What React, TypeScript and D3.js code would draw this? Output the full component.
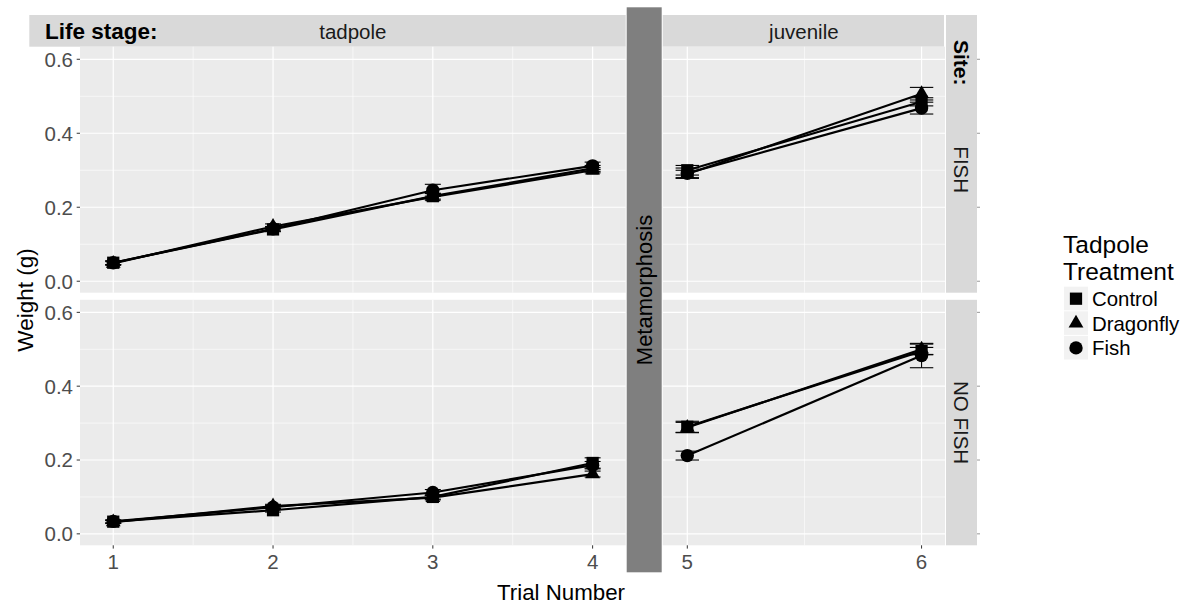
import React from "react";
import * as d3 from "d3";

// ---- data -------------------------------------------------------------
const tadpoleTrials = [1, 2, 3, 4];
const juvenileTrials = [5, 6];
const treatments = ["Control", "Dragonfly", "Fish"];
const sites = ["FISH", "NO FISH"];
const yTicks = [0, 0.2, 0.4, 0.6];
const yMinorTicks = [0.1, 0.3, 0.5];

// mean weight (g) for trials 1..6, per site and tadpole treatment
const fishControl = [0.05, 0.14, 0.23, 0.305, 0.3, 0.485];
const fishDragonfly = [0.048, 0.148, 0.228, 0.3, 0.29, 0.507];
const fishFish = [0.05, 0.142, 0.246, 0.312, 0.292, 0.468];
const noFishControl = [0.033, 0.064, 0.1, 0.192, 0.29, 0.495];
const noFishDragonfly = [0.032, 0.075, 0.098, 0.162, 0.288, 0.5];
const noFishFish = [0.034, 0.072, 0.112, 0.186, 0.212, 0.483];

// standard errors
const fishControlSe = [0.005, 0.006, 0.008, 0.008, 0.013, 0.011];
const fishDragonflySe = [0.005, 0.007, 0.009, 0.007, 0.01, 0.017];
const fishFishSe = [0.005, 0.006, 0.016, 0.01, 0.014, 0.016];
const noFishControlSe = [0.004, 0.005, 0.006, 0.014, 0.015, 0.01];
const noFishDragonflySe = [0.004, 0.005, 0.006, 0.008, 0.014, 0.014];
const noFishFishSe = [0.004, 0.005, 0.008, 0.01, 0.012, 0.033];

const means: Record<string, Record<string, number[]>> = {
  FISH: { Control: fishControl, Dragonfly: fishDragonfly, Fish: fishFish },
  "NO FISH": { Control: noFishControl, Dragonfly: noFishDragonfly, Fish: noFishFish },
};
const ses: Record<string, Record<string, number[]>> = {
  FISH: { Control: fishControlSe, Dragonfly: fishDragonflySe, Fish: fishFishSe },
  "NO FISH": { Control: noFishControlSe, Dragonfly: noFishDragonflySe, Fish: noFishFishSe },
};

// ---- layout -----------------------------------------------------------
const W = 1199;
const H = 609;
const FONT = "'Liberation Sans', Arial, sans-serif";

const leftPanel = { x0: 80, x1: 625.7 };
const rightPanel = { x0: 662.7, x1: 945 };
const rows = [
  { y0: 46.7, y1: 292.7 },
  { y0: 299.8, y1: 545.3 },
];
const stripTop = 15;
const siteStrip = { x0: 946, x1: 977 };

const xLeft = d3.scaleLinear().domain([1 - 0.208, 4 + 0.207]).range([leftPanel.x0, leftPanel.x1]);
const xRight = d3.scaleLinear().domain([5 - 0.105, 6 + 0.1]).range([rightPanel.x0, rightPanel.x1]);
const yScales = rows.map((r) => d3.scaleLinear().domain([-0.031, 0.634]).range([r.y1, r.y0]));

const symbolTypes: Record<string, d3.SymbolType> = {
  Control: d3.symbolSquare,
  Dragonfly: d3.symbolTriangle,
  Fish: d3.symbolCircle,
};
const symbolSizes: Record<string, number> = { Control: 150, Dragonfly: 95, Fish: 140 };
const symbolPath = (t: string) => d3.symbol().type(symbolTypes[t]).size(symbolSizes[t])() as string;

const lineGen = d3.line<[number, number]>().x((d) => d[0]).y((d) => d[1]);

function Panel({
  x,
  trials,
  row,
  site,
  minorX,
}: {
  x: d3.ScaleLinear<number, number>;
  trials: number[];
  row: number;
  site: string;
  minorX: number[];
}) {
  const y = yScales[row];
  const [x0, x1] = x.range();
  const { y0, y1 } = rows[row];
  const idx = trials.map((t) => t - 1);
  return (
    <g>
      <rect x={x0} y={y0} width={x1 - x0} height={y1 - y0} fill="#ebebeb" />
      {yMinorTicks.map((v) => (
        <line key={"ym" + v} x1={x0} x2={x1} y1={y(v)} y2={y(v)} stroke="#fff" strokeWidth={0.6} />
      ))}
      {minorX.map((v) => (
        <line key={"xm" + v} x1={x(v)} x2={x(v)} y1={y0} y2={y1} stroke="#fff" strokeWidth={0.6} />
      ))}
      {yTicks.map((v) => (
        <line key={"yM" + v} x1={x0} x2={x1} y1={y(v)} y2={y(v)} stroke="#fff" strokeWidth={1.2} />
      ))}
      {trials.map((v) => (
        <line key={"xM" + v} x1={x(v)} x2={x(v)} y1={y0} y2={y1} stroke="#fff" strokeWidth={1.2} />
      ))}
      {treatments.map((t) => (
        <path
          key={"l" + t}
          d={lineGen(idx.map((i, k) => [x(trials[k]), y(means[site][t][i])])) as string}
          fill="none"
          stroke="#000"
          strokeWidth={2.2}
        />
      ))}
      {treatments.map((t) =>
        idx.map((i, k) => {
          const m = means[site][t][i];
          const s = ses[site][t][i];
          const cx = x(trials[k]);
          const hw = (x(trials[k] + 0.05) - x(trials[k] - 0.05)) / 2;
          return (
            <g key={"e" + t + i} stroke="#000" strokeWidth={1.1}>
              <line x1={cx} x2={cx} y1={y(m - s)} y2={y(m + s)} />
              <line x1={cx - hw} x2={cx + hw} y1={y(m - s)} y2={y(m - s)} />
              <line x1={cx - hw} x2={cx + hw} y1={y(m + s)} y2={y(m + s)} />
            </g>
          );
        })
      )}
      {treatments.map((t) =>
        idx.map((i, k) => (
          <path
            key={"p" + t + i}
            d={symbolPath(t)}
            transform={`translate(${x(trials[k])},${y(means[site][t][i])})`}
            fill="#000"
          />
        ))
      )}
    </g>
  );
}

export default function App() {
  const tickColor = "#4d4d4d";
  const leftMinor = [1.5, 2.5, 3.5];
  const rightMinor = [5.5];
  return (
    <svg
      width={W}
      height={H}
      viewBox={`0 0 ${W} ${H}`}
      style={{ position: "absolute", left: 0, top: 0, background: "#fff", fontFamily: FONT }}
    >
      <rect x={0} y={0} width={W} height={H} fill="#fff" />

      {/* column strips */}
      <rect x={29.3} y={stripTop} width={leftPanel.x1 - 29.3} height={rows[0].y0 - stripTop} fill="#d9d9d9" />
      <rect
        x={rightPanel.x0}
        y={stripTop}
        width={rightPanel.x1 - 1 - rightPanel.x0}
        height={rows[0].y0 - stripTop}
        fill="#d9d9d9"
      />
      <text x={45} y={39} fontSize={22.5} fontWeight="bold" fill="#000">
        Life stage:
      </text>
      <text x={(leftPanel.x0 + leftPanel.x1) / 2} y={39} fontSize={20.5} fill="#1a1a1a" textAnchor="middle">
        tadpole
      </text>
      <text x={(rightPanel.x0 + rightPanel.x1) / 2} y={39} fontSize={20.5} fill="#1a1a1a" textAnchor="middle">
        juvenile
      </text>

      {/* row strips */}
      <rect x={siteStrip.x0} y={stripTop} width={siteStrip.x1 - siteStrip.x0} height={rows[0].y1 - stripTop} fill="#d9d9d9" />
      <rect
        x={siteStrip.x0}
        y={rows[1].y0}
        width={siteStrip.x1 - siteStrip.x0}
        height={rows[1].y1 - rows[1].y0}
        fill="#d9d9d9"
      />
      <text transform={`translate(954,40) rotate(90)`} fontSize={21} fontWeight="bold" fill="#000">
        Site:
      </text>
      {sites.map((s, r) => (
        <text
          key={s}
          transform={`translate(954,${(rows[r].y0 + rows[r].y1) / 2}) rotate(90)`}
          fontSize={20.5}
          fill="#1a1a1a"
          textAnchor="middle"
        >
          {s}
        </text>
      ))}
      {sites.map((s, r) =>
        yTicks.map((v) => (
          <line
            key={"rt" + s + v}
            x1={siteStrip.x1}
            x2={siteStrip.x1 + 3}
            y1={yScales[r](v)}
            y2={yScales[r](v)}
            stroke="#999"
            strokeWidth={1}
          />
        ))
      )}

      {/* panels */}
      {sites.map((s, r) => (
        <g key={"pan" + s}>
          <Panel x={xLeft} trials={tadpoleTrials} row={r} site={s} minorX={leftMinor} />
          <Panel x={xRight} trials={juvenileTrials} row={r} site={s} minorX={rightMinor} />
        </g>
      ))}

      {/* metamorphosis divider */}
      <rect x={626.7} y={7.3} width={35} height={565} fill="#7f7f7f" />
      <text transform={`translate(651.5,290) rotate(-90)`} fontSize={22} fill="#000" textAnchor="middle">
        Metamorphosis
      </text>

      {/* y axes */}
      {sites.map((s, r) =>
        yTicks.map((v) => (
          <g key={"yt" + s + v}>
            <line x1={leftPanel.x0 - 3.3} x2={leftPanel.x0} y1={yScales[r](v)} y2={yScales[r](v)} stroke="#333" strokeWidth={1} />
            <text
              x={leftPanel.x0 - 7}
              y={yScales[r](v)}
              dy="0.36em"
              fontSize={20.5}
              fill={tickColor}
              textAnchor="end"
            >
              {d3.format(".1f")(v)}
            </text>
          </g>
        ))
      )}
      <text transform={`translate(33,300) rotate(-90)`} fontSize={22.5} fill="#000" textAnchor="middle">
        Weight (g)
      </text>

      {/* x axes */}
      {[
        { x: xLeft, t: tadpoleTrials },
        { x: xRight, t: juvenileTrials },
      ].map(({ x, t }) =>
        t.map((v) => (
          <g key={"xt" + v}>
            <line x1={x(v)} x2={x(v)} y1={rows[1].y1} y2={rows[1].y1 + 3.3} stroke="#333" strokeWidth={1} />
            <text x={x(v)} y={569} fontSize={20.5} fill={tickColor} textAnchor="middle">
              {v}
            </text>
          </g>
        ))
      )}
      <text x={561} y={600} fontSize={22.3} fill="#000" textAnchor="middle">
        Trial Number
      </text>

      {/* legend */}
      <text x={1063} y={253} fontSize={24.5} fill="#000">
        Tadpole
      </text>
      <text x={1063} y={280} fontSize={24.5} fill="#000">
        Treatment
      </text>
      {treatments.map((t, i) => {
        const ky = 286.7 + i * 24.6;
        return (
          <g key={"lg" + t}>
            <rect x={1064} y={ky} width={24} height={23.6} fill="#f2f2f2" />
            <path d={symbolPath(t)} transform={`translate(1076,${ky + 12})`} fill="#000" />
            <text x={1092} y={ky + 12} dy="0.36em" fontSize={20.4} fill="#000">
              {t}
            </text>
          </g>
        );
      })}
    </svg>
  );
}
